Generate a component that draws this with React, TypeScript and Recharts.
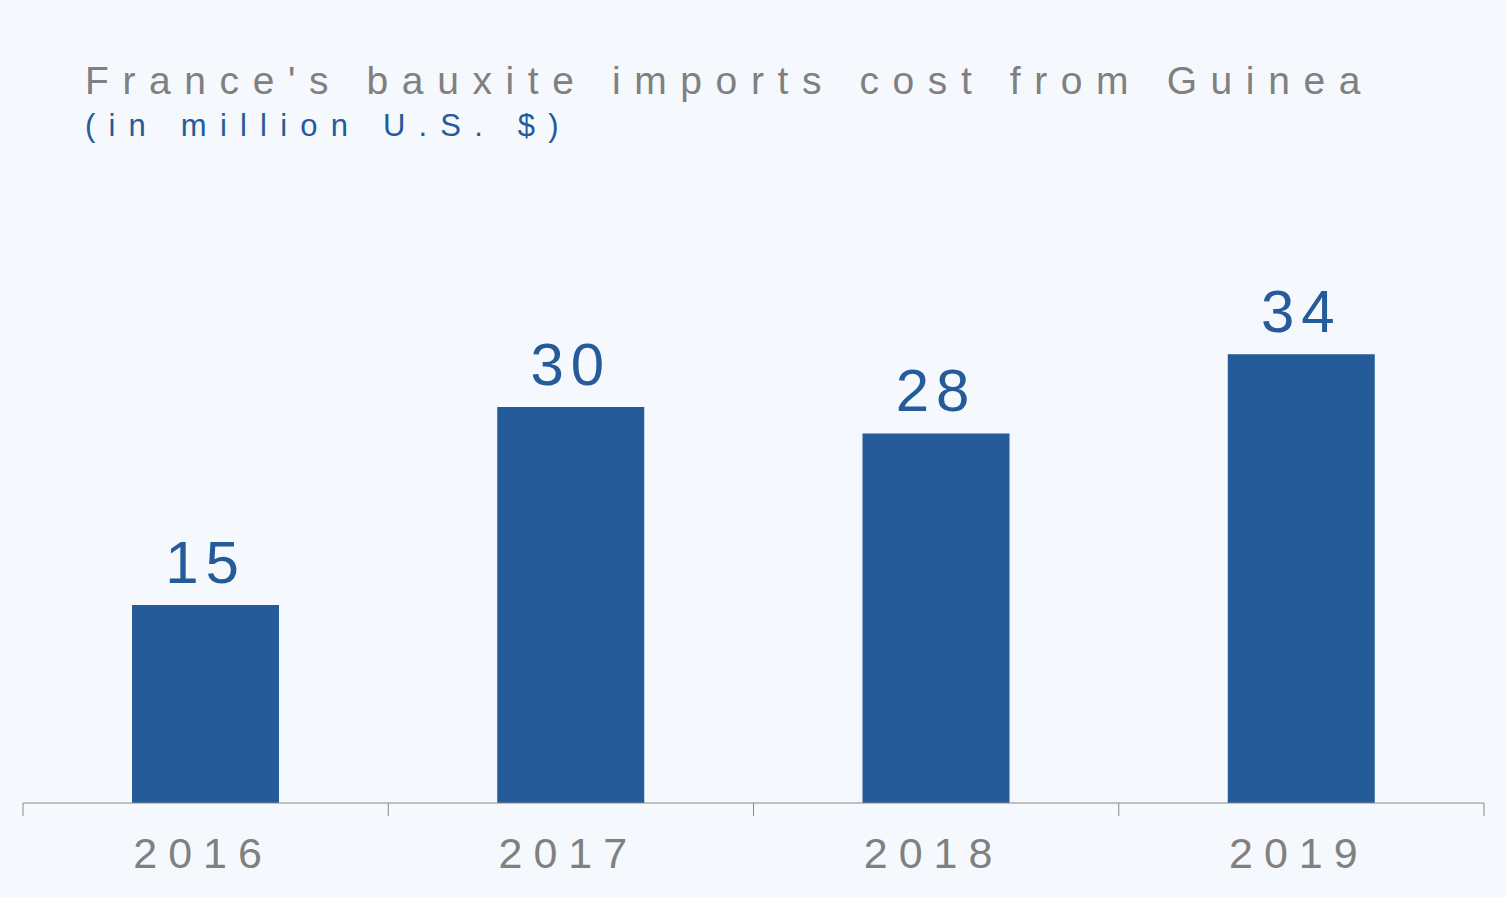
import React from "react";
import { BarChart, Bar, XAxis, YAxis, LabelList } from "recharts";

const years = ["2016", "2017", "2018", "2019"];
const costs = [15, 30, 28, 34];

const data = years.map((year, i) => ({ year, cost: costs[i] }));

const BLUE = "#255b99";
const GREY = "#808080";
const BG = "#f5f9fd";
const FONT = "'Liberation Sans', Arial, sans-serif";

function YearTick(props: any) {
  const { x, y, payload, index, visibleTicksCount } = props;
  const half = payload && payload.offset ? payload.offset : 182.6;
  const last = index === visibleTicksCount - 1;
  return (
    <g>
      <line x1={x - half} x2={x - half} y1={y - 13} y2={y} stroke="#888" strokeWidth={1} />
      {last && <line x1={x + half} x2={x + half} y1={y - 13} y2={y} stroke="#888" strokeWidth={1} />}
      <text
        x={x - 2.5}
        y={y + 52}
        textAnchor="middle"
        fill={GREY}
        fontSize={43}
        fontFamily={FONT}
        letterSpacing={11}
      >
        {payload.value}
      </text>
    </g>
  );
}

export default function App() {
  return (
    <div style={{ position: "absolute", left: 0, top: 0, width: 1506, height: 897, background: BG, fontFamily: FONT }}>
      <div
        style={{
          position: "absolute",
          left: 85,
          top: 58,
          fontSize: 39,
          color: GREY,
          letterSpacing: 13.6,
          whiteSpace: "nowrap",
          lineHeight: "46px",
        }}
      >
        France's bauxite imports cost from Guinea
      </div>
      <div
        style={{
          position: "absolute",
          left: 85,
          top: 106,
          fontSize: 31,
          color: BLUE,
          letterSpacing: 13.2,
          whiteSpace: "nowrap",
          lineHeight: "40px",
        }}
      >
        (in million U.S. $)
      </div>
      <BarChart
        width={1506}
        height={897}
        data={data}
        margin={{ top: 275, right: 22, bottom: 0, left: 23 }}
      >
        <XAxis
          dataKey="year"
          axisLine={{ stroke: "#888", strokeWidth: 1 }}
          tickLine={false}
          tickSize={13}
          tickMargin={0}
          interval={0}
          tick={<YearTick />}
          height={94}
        />
        <YAxis hide domain={[0, 40]} />
        <Bar dataKey="cost" fill={BLUE} barSize={147} isAnimationActive={false}>
          <LabelList
            dataKey="cost"
            position="top"
            offset={22}
            fill={BLUE}
            fontSize={60}
            fontFamily={FONT}
            letterSpacing={7}
          />
        </Bar>
      </BarChart>
    </div>
  );
}
